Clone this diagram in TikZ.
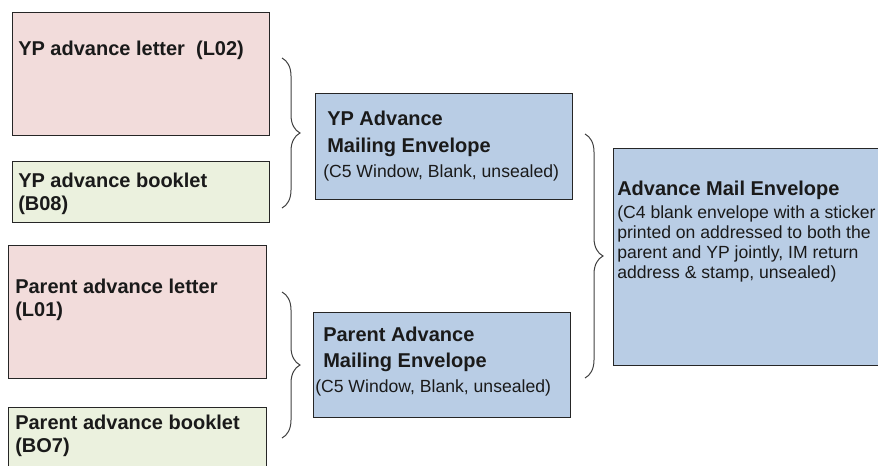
\documentclass[tikz,border=0pt]{standalone}
\usepackage{fontspec}
\setmainfont{Liberation Sans}
\usetikzlibrary{positioning,decorations.pathreplacing}
\definecolor{MPCanvas}{HTML}{FFFFFF}
\definecolor{MPLetter}{HTML}{F2DCDB}
\definecolor{MPBooklet}{HTML}{EBF1DE}
\definecolor{MPEnvelope}{HTML}{B9CDE5}
\definecolor{MPLine}{HTML}{262626}
\definecolor{MPBrace}{HTML}{404040}
\definecolor{MPInk}{HTML}{1A1A1A}
\tikzset{
  item/.style={draw=MPLine,line width=0.9pt,anchor=north west,inner sep=0pt},
  letterbox/.style={item,fill=MPLetter},
  bookletbox/.style={item,fill=MPBooklet},
  envelopebox/.style={item,fill=MPEnvelope},
  head/.style={anchor=base west,inner sep=0pt,align=left,text=MPInk,
               font=\fontsize{15}{17}\selectfont\bfseries},
  note/.style={anchor=base west,inner sep=0pt,align=left,text=MPInk,
               font=\fontsize{13.2}{15}\selectfont},
  bracket/.style={decorate,decoration={brace,amplitude=13.5pt},draw=MPBrace,line width=0.75pt},
}
\begin{document}
\begin{tikzpicture}[x=0.75pt,y=-0.75pt]
  \useasboundingbox (0,0) rectangle (878,465);
  \clip (0,0) rectangle (878,465);

  % items going into the envelopes (text placed by its last baseline)
  \node[letterbox,minimum width=192.75pt,minimum height=92.25pt] (ypletter) at (12,12) {};
  \node[head] (ypletterlbl) at (18,55) {YP advance letter\ \ (L02)};

  \node[bookletbox,minimum width=192.75pt,minimum height=45.75pt] (ypbooklet) at (12,161) {};
  \node[head] (ypbookletlbl) at (18,210) {YP advance booklet\\(B08)};

  \node[letterbox,minimum width=193.5pt,minimum height=99.75pt] (parletter) at (8,245) {};
  \node[head] (parletterlbl) at (15,316) {Parent advance letter\\(L01)};

  \node[bookletbox,minimum width=193.5pt,minimum height=60pt] (parbooklet) at (8,407) {};
  \node[head] (parbookletlbl) at (15,452) {Parent advance booklet\\(BO7)};

  % mailing envelopes
  \node[envelopebox,minimum width=192.75pt,minimum height=79.5pt] (ypmail) at (315,93) {};
  \node[head] (ypmaillbl) at (327,152) {YP Advance\\[3pt]Mailing Envelope};
  \node[note] (ypmailnote) at (323,177) {(C5 Window, Blank, unsealed)};

  \node[envelopebox,minimum width=192.75pt,minimum height=78.75pt] (parmail) at (313,312) {};
  \node[head] (parmaillbl) at (323,367) {Parent Advance\\[2pt]Mailing Envelope};
  \node[note] (parmailnote) at (315,392) {(C5 Window, Blank, unsealed)};

  % the outer envelope
  \node[envelopebox,minimum width=210pt,minimum height=162.75pt] (advmail) at (613,148) {};
  \node[head] (advmaillbl) at (617,195) {Advance Mail Envelope};
  \node[note] (advmailnote) at (617,278)
    {(C4 blank envelope with a sticker\\printed on addressed to both the\\parent and YP jointly, IM return\\address \& stamp, unsealed)};

  % braces
  \coordinate (ypbracetop) at (282,58);
  \coordinate (ypbracebot) at (282,208);
  \coordinate (parbracetop) at (282,292);
  \coordinate (parbracebot) at (282,438);
  \coordinate (advbracetop) at (585,134);
  \coordinate (advbracebot) at (585,378);
  \draw[bracket] (ypbracetop) -- (ypbracebot);
  \draw[bracket] (parbracetop) -- (parbracebot);
  \draw[bracket] (advbracetop) -- (advbracebot);
\end{tikzpicture}
\end{document}
